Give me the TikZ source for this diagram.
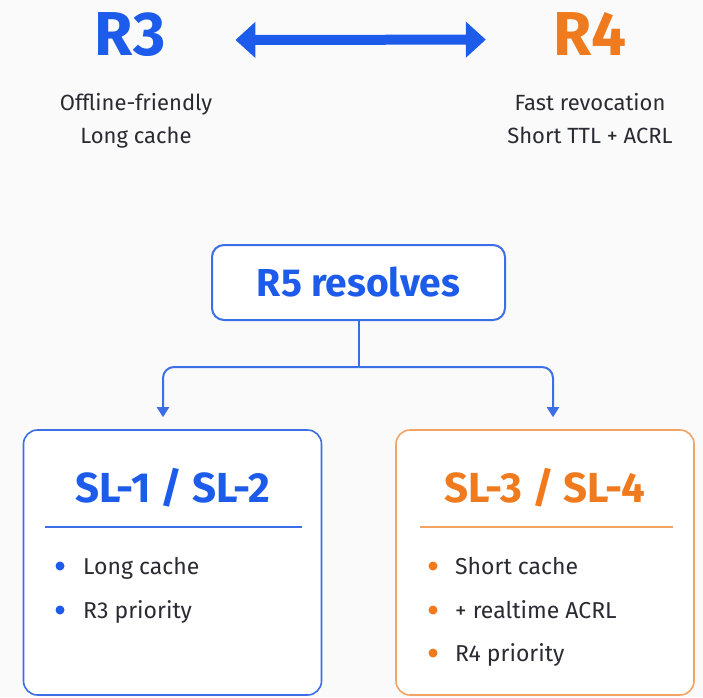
\documentclass[tikz,border=0pt]{standalone}
\usepackage{fontspec}
\setmainfont{Fira Sans}
\usetikzlibrary{arrows.meta}

\definecolor{accblue}{HTML}{1D5BEA}
\definecolor{accorange}{HTML}{F07A1E}
\definecolor{linkblue}{HTML}{3C6FE6}
\definecolor{boxorange}{HTML}{F2A465}
\definecolor{ink}{HTML}{2A2A32}
\definecolor{paper}{HTML}{FAFAFA}

\tikzset{
  bigtag/.style={font=\fontsize{62}{62}\selectfont\bfseries, inner sep=0pt, anchor=base},
  note/.style={font=\fontsize{22}{26}\selectfont, text=ink, inner sep=0pt, anchor=base},
  paneltitle/.style={font=\fontsize{42}{42}\selectfont\bfseries, inner sep=0pt, anchor=base},
  panel/.style={rounded corners=14pt, line width=1.6pt, fill=white,
    minimum width=298pt, minimum height=265pt, inner sep=0pt},
  item/.style={font=\fontsize{23}{27}\selectfont, text=ink, inner sep=0pt, anchor=base west},
  trunk/.style={draw=linkblue, line width=2pt},
  link/.style={draw=linkblue, line width=2pt, rounded corners=11pt,
    -{Triangle[width=12pt,length=10pt]}},
  sep/.style={line width=1.5pt}
}

\begin{document}
\begin{tikzpicture}[x=1pt,y=-1pt]
\fill[paper] (0,0) rectangle (703,697);
\useasboundingbox (0,0) rectangle (703,697);

% the two competing requirements
\node[bigtag, text=accblue] (r3) at (130,55) {R3};
\node[bigtag, text=accorange] (r4) at (590,55) {R4};
\draw[accblue, line width=10pt,
  {Triangle[width=35pt,length=20pt]}-{Triangle[width=35pt,length=20pt]},
  shorten <=70pt, shorten >=68pt]
  ([yshift=-6pt]r3.east) -- ([yshift=-6pt]r4.west);

\node[note] (r3a) at (136,110) {Offline-friendly};
\node[note] (r3b) at (136,143) {Long cache};
\node[note] (r4a) at (590,110) {Fast revocation};
\node[note] (r4b) at (590,143) {Short TTL + ACRL};

% resolver box
\node[draw=linkblue, line width=2pt, rounded corners=12pt, fill=white,
  minimum width=293pt, minimum height=75pt,
  font=\fontsize{39}{39}\selectfont\bfseries, text=accblue]
  (r5) at (358.5,282.5) {R5 resolves};

% level panels
\node[panel, draw=linkblue] (sl12) at (172.5,562.5) {};
\node[panel, draw=boxorange] (sl34) at (545,562.5) {};

\node[paneltitle, text=accblue] (t12) at (173,502) {SL-1 / SL-2};
\node[paneltitle, text=accorange] (t34) at (545,502) {SL-3 / SL-4};

\draw[sep, draw=linkblue] (45,527) -- (302,527);
\draw[sep, draw=boxorange] (420,527) -- (673,527);

% branching connectors
\coordinate (split) at (358.5,367);
\draw[trunk] (r5.south) -- (split);
\draw[link] (split) -| ([xshift=-9.5pt,yshift=12pt]sl12.north);
\draw[link] (split) -| ([xshift=8pt,yshift=12pt]sl34.north);

% bullet lists
\fill[accblue] (60,566) circle (4.5pt);
\node[item] (b1) at (83,574) {Long cache};
\fill[accblue] (60,610) circle (4.5pt);
\node[item] (b2) at (83,618) {R3 priority};

\fill[accorange] (433,566) circle (4.5pt);
\node[item] (c1) at (455,574) {Short cache};
\fill[accorange] (433,610) circle (4.5pt);
\node[item] (c2) at (455,618) {+ realtime ACRL};
\fill[accorange] (433,653) circle (4.5pt);
\node[item] (c3) at (455,661) {R4 priority};
\end{tikzpicture}
\end{document}
